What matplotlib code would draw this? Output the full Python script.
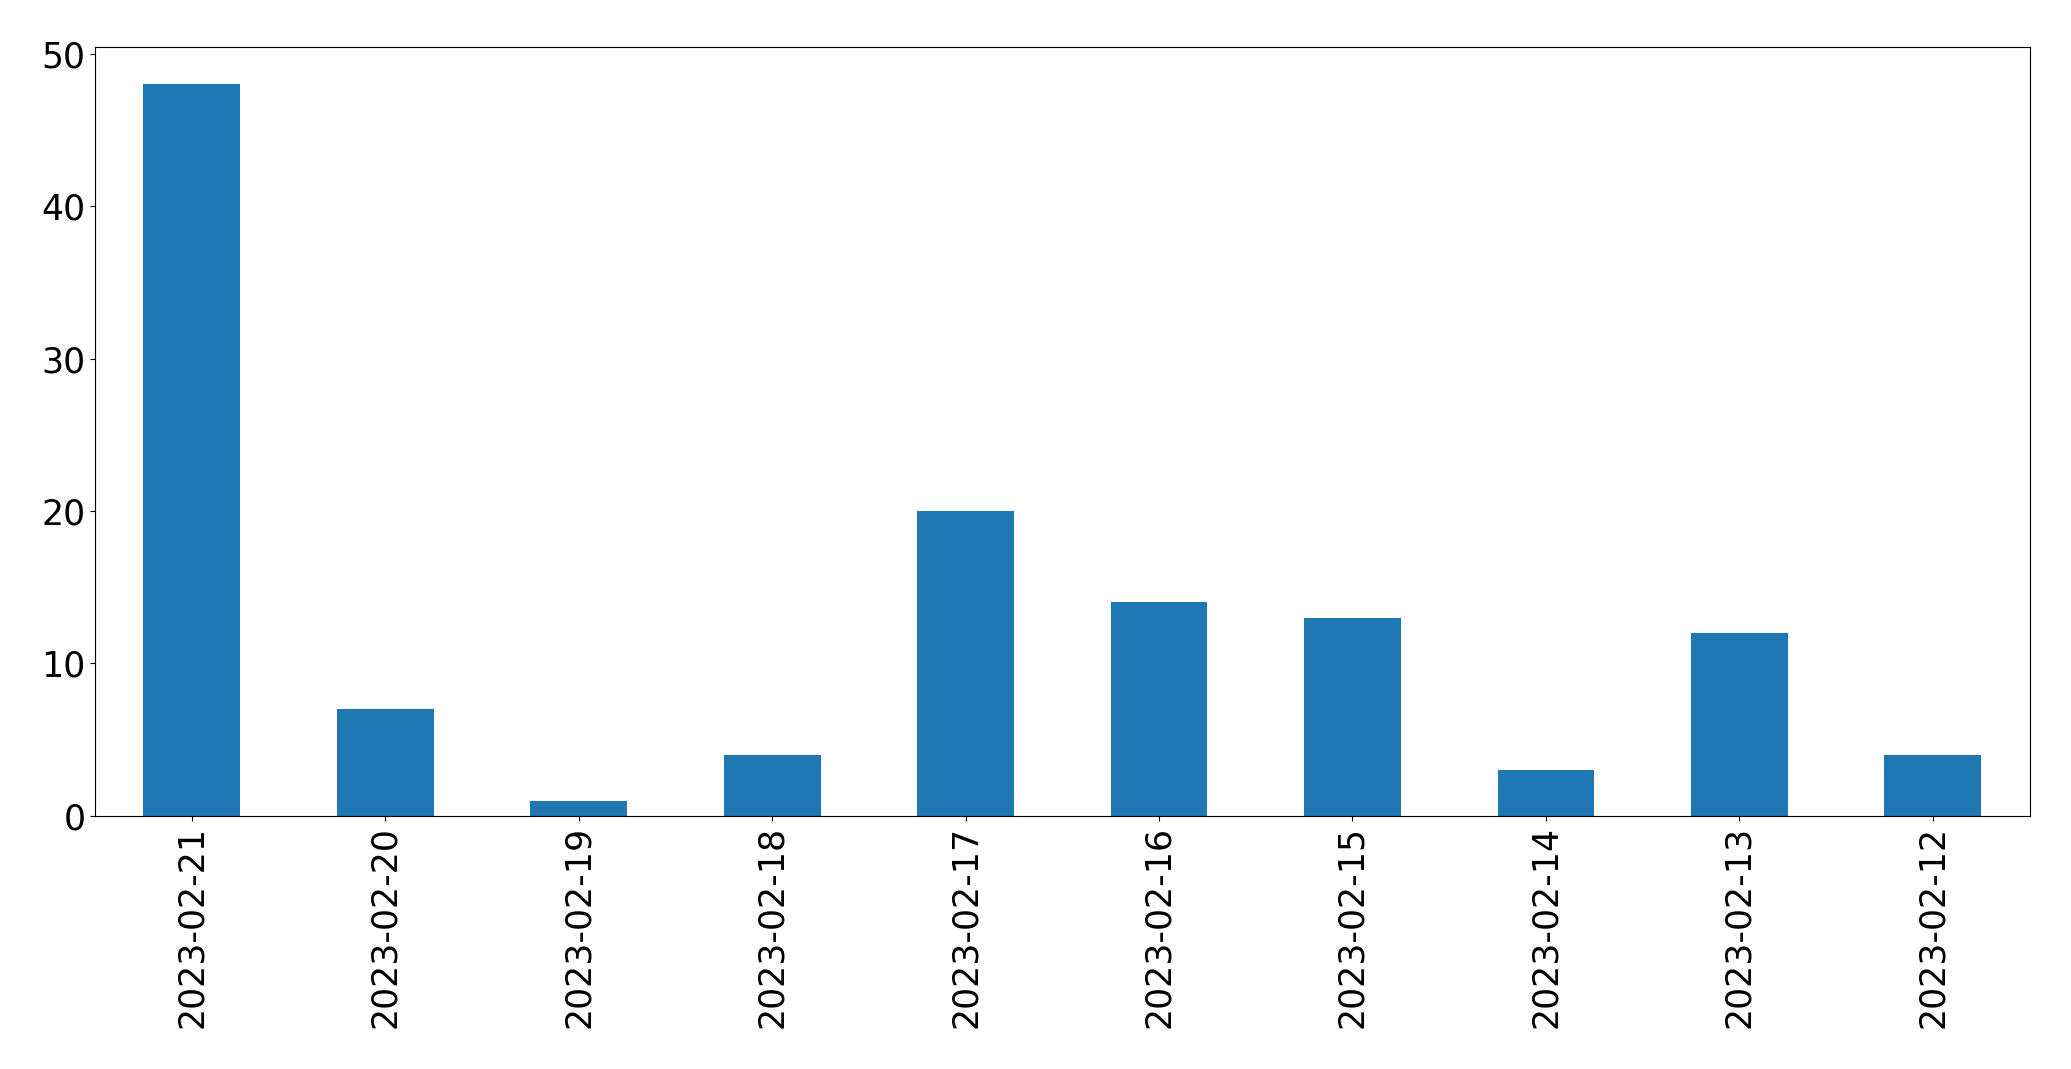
import matplotlib
matplotlib.use('Agg')
import matplotlib.pyplot as plt

# daily counts, newest first (as in the picture)
dates = ['2023-02-21', '2023-02-20', '2023-02-19', '2023-02-18', '2023-02-17',
         '2023-02-16', '2023-02-15', '2023-02-14', '2023-02-13', '2023-02-12']
counts = [48, 7, 1, 4, 20, 14, 13, 3, 12, 4]

fig = plt.figure(figsize=(20.71, 10.69), dpi=100)
ax = fig.add_axes([0.0459, 0.2367, 0.9341, 0.7189])

ax.bar(range(len(dates)), counts, width=0.5, color='#1f77b4')
ax.set_xlim(-0.5, len(dates) - 0.5)
ax.set_ylim(0, max(counts) * 1.05)
ax.set_xticks(range(len(dates)))
ax.set_xticklabels(dates, rotation=90)
ax.tick_params(labelsize=25)

fig.savefig('out.png', dpi=100)
